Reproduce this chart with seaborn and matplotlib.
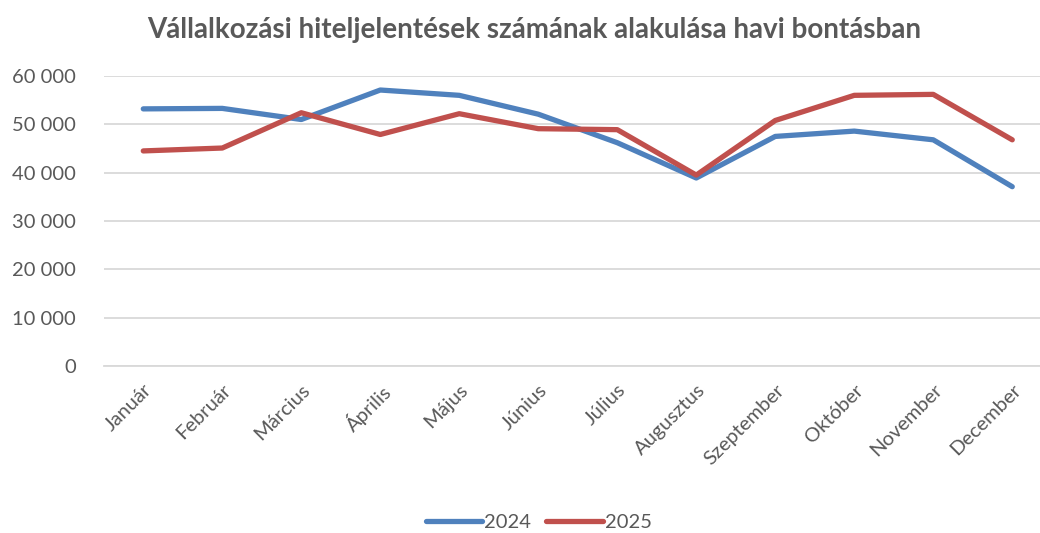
import pandas as pd
import matplotlib.pyplot as plt
import seaborn as sns

# adatok
honapok = ['Január', 'Február', 'Március', 'Április', 'Május', 'Június',
           'Július', 'Augusztus', 'Szeptember', 'Október', 'November', 'December']
ertek_2024 = [53200, 53300, 51000, 57100, 56000, 52100,
              46200, 38900, 47500, 48600, 46800, 37100]
ertek_2025 = [44500, 45100, 52400, 47900, 52200, 49100,
              48900, 39500, 50800, 56000, 56200, 46800]
evek = ['2024', '2025']
y_ticks = [0, 10000, 20000, 30000, 40000, 50000, 60000]

df = pd.DataFrame({
    'honap': honapok * 2,
    'ev': [evek[0]] * 12 + [evek[1]] * 12,
    'ertek': ertek_2024 + ertek_2025,
})

sns.set_style('white')
plt.rcParams['font.family'] = ['Lato', 'DejaVu Sans']
szurke = '#595959'

fig = plt.figure(figsize=(10.4, 5.33), dpi=100)
ax = fig.add_axes([0.0998, 0.3133, 0.9115, 0.5441])

sns.lineplot(data=df, x='honap', y='ertek', hue='ev', sort=False,
             palette=['#4F81BD', '#C0504D'], linewidth=3.8, ax=ax)

ax.set_xlim(-0.5, 11.5)
ax.set_ylim(0, 60000)
ax.set_yticks(y_ticks)
ax.set_yticklabels([f'{v:,}'.replace(',', ' ') for v in y_ticks])
ax.yaxis.grid(True, color='#D9D9D9', linewidth=1.3)
ax.set_axisbelow(True)
for s in ['top', 'right', 'left']:
    ax.spines[s].set_visible(False)
ax.spines['bottom'].set_color('#D9D9D9')
ax.spines['bottom'].set_linewidth(1.3)
ax.tick_params(axis='both', length=0, colors=szurke, labelsize=14.5)
ax.tick_params(axis='y', pad=20)
ax.tick_params(axis='x', pad=11)
plt.setp(ax.get_xticklabels(), rotation=45, ha='right', rotation_mode='anchor')
ax.set_xlabel('')
ax.set_ylabel('')

fig.text(0.514, 0.944, 'Vállalkozási hiteljelentések számának alakulása havi bontásban',
         ha='center', va='center', fontsize=20, fontweight='bold', color=szurke)

ax.get_legend().remove()
h, l = ax.get_legend_handles_labels()
leg = fig.legend(h, l, loc='center', bbox_to_anchor=(0.518, 0.02),
                 ncol=2, frameon=False, fontsize=14.5, handlelength=2.8,
                 handletextpad=0.1, columnspacing=0.75)
for t in leg.get_texts():
    t.set_color(szurke)

fig.savefig('out.png', dpi=100)
